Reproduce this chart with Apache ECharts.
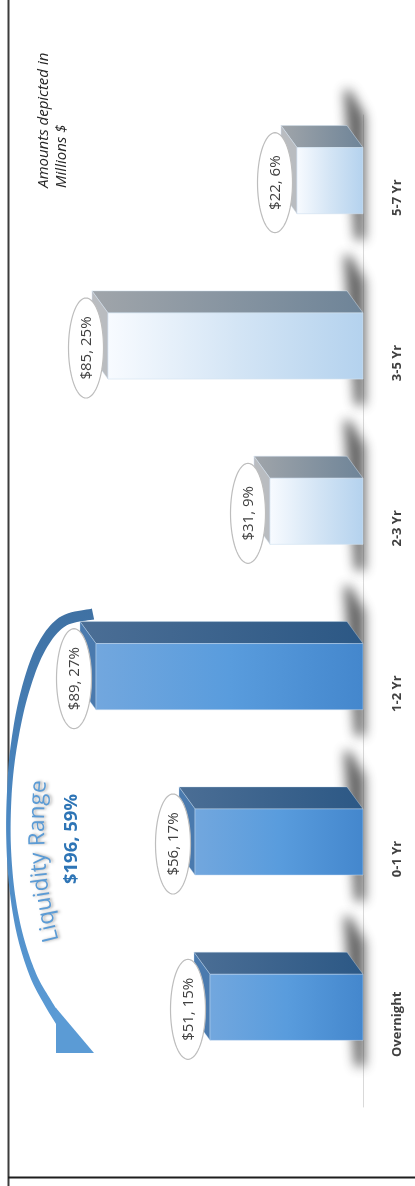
<!DOCTYPE html>
<html>
<head>
<meta charset="utf-8">
<title>Maturity profile</title>
<script src="https://cdn.jsdelivr.net/npm/echarts@6/dist/echarts.min.js"></script>
<style>
  html, body { margin: 0; padding: 0; background: #ffffff; }
  #chart { width: 415px; height: 1186px; }
</style>
</head>
<body>
<div id="chart"></div>
<script>
// Maturity buckets, amounts (millions $) and share of total (%)
const categories = ['Overnight', '0-1 Yr', '1-2 Yr', '2-3 Yr', '3-5 Yr', '5-7 Yr'];
const amounts = [51, 56, 89, 31, 85, 22];
const shares = [15, 17, 27, 9, 25, 6];
// the first buckets form the liquidity range
const liquidCount = 3;
const noteText = 'Amounts depicted in\nMillions $';
const rangeTitle = 'Liquidity Range';

const liquidTotal = amounts.slice(0, liquidCount).reduce((a, b) => a + b, 0);
const liquidShare = shares.slice(0, liquidCount).reduce((a, b) => a + b, 0);

const FONT = '"Open Sans", "Noto Sans", sans-serif';
const LG = echarts.graphic.LinearGradient;

const palettes = {
  liquid: {
    front: () => new LG(0, 0, 1, 0, [
      { offset: 0, color: '#72a7de' }, { offset: 0.5, color: '#599cdd' }, { offset: 1, color: '#4487cd' }]),
    top: () => new LG(0, 0, 1, 0, [
      { offset: 0, color: '#4b6e95' }, { offset: 1, color: '#2c5885' }]),
    side: '#4a7aae',
    edge: 'rgba(200,220,240,0.6)'
  },
  term: {
    front: () => new LG(0, 0, 1, 0, [
      { offset: 0, color: '#f8fbff' }, { offset: 0.5, color: '#d4e5f5' }, { offset: 1, color: '#b4d2ee' }]),
    top: () => new LG(0, 0, 1, 0, [
      { offset: 0, color: '#a0a5aa' }, { offset: 1, color: '#6e8498' }]),
    side: '#b9bcc0',
    edge: 'rgba(210,225,240,0.8)'
  }
};

function ellipsePoints(cx, cy, rx, ry) {
  const pts = [];
  for (let i = 0; i < 72; i++) {
    const a = i / 72 * Math.PI * 2;
    pts.push([cx + rx * Math.cos(a), cy + ry * Math.sin(a)]);
  }
  return pts;
}

// 3D column drawn lying on its side: front face, upper face, end cap, soft floor shadow and value bubble
function renderColumn(params, api) {
  const val = api.value(0);
  const idx = api.value(1);
  const share = api.value(2);
  const tip = api.coord([val, idx]);
  const base = api.coord([0, idx]);
  const band = api.size([0, 1])[1];
  const xl = tip[0], x0 = base[0], yc = tip[1];
  const half = band * 0.2, lift = band * 0.103;
  const yt = yc - lift - half, yb = yc - lift + half;
  const dx = 16, dy = 22;
  const pal = idx < liquidCount ? palettes.liquid : palettes.term;
  const off = 3000;

  // only the blurred shadow of this off-canvas shape lands on the chart
  const shadowPts = [[x0 - 19, yc - 108], [x0 - 13, yc - 108], [x0 + 2, yc - 82], [x0 + 2, yc + 42], [x0 - 8, yc + 42]]
    .map(p => [p[0] - off, p[1]]);

  const ex = xl - 22, ey = yc - 15;
  const label = '$' + val + ', ' + share + '%';

  return {
    type: 'group',
    silent: true,
    children: [
      { type: 'polygon', shape: { points: shadowPts },
        style: { fill: '#000', shadowBlur: 12, shadowColor: 'rgba(40,40,40,0.72)', shadowOffsetX: off } },
      { type: 'polygon', shape: { points: [[xl, yt], [x0, yt], [x0 - dx, yt - dy], [xl - dx, yt - dy]] },
        style: { fill: pal.top(), stroke: pal.edge, lineWidth: 0.6 } },
      { type: 'polygon', shape: { points: [[xl, yt], [xl - dx, yt - dy], [xl - dx, yb - dy], [xl, yb]] },
        style: { fill: pal.side, stroke: pal.edge, lineWidth: 0.6 } },
      { type: 'rect', shape: { x: xl, y: yt, width: x0 - xl, height: yb - yt },
        style: { fill: pal.front(), stroke: pal.edge, lineWidth: 0.8 } },
      { type: 'polygon', shape: { points: ellipsePoints(ex, ey, 17.5, 50) },
        style: { fill: '#ffffff', stroke: '#bdbdbd', lineWidth: 1.2 } },
      { type: 'text', x: ex + 1, y: ey, rotation: Math.PI / 2,
        style: { text: label, align: 'center', verticalAlign: 'middle', fill: '#404040',
                 font: '15px ' + FONT } }
    ]
  };
}

// curved bracket arrow over the liquidity range
function arrowOutline() {
  const path = [[93, 614], [62, 622], [40, 650], [24, 695], [14, 745], [9.5, 790], [8.5, 840],
                [12, 890], [20, 935], [33, 975], [48, 1003], [60, 1022]];
  const widths = [5.5, 5.3, 4.8, 4, 3.2, 2.4, 2.2, 2.4, 2.9, 3.4, 4, 4.4];
  const samples = [], ws = [];
  const n = 12;
  for (let i = 0; i < path.length - 1; i++) {
    const p0 = path[Math.max(i - 1, 0)], p1 = path[i], p2 = path[i + 1], p3 = path[Math.min(i + 2, path.length - 1)];
    for (let k = 0; k < n; k++) {
      const t = k / n, t2 = t * t, t3 = t2 * t;
      const f = (a, b, c, d) => 0.5 * (2 * b + (-a + c) * t + (2 * a - 5 * b + 4 * c - d) * t2 + (-a + 3 * b - 3 * c + d) * t3);
      samples.push([f(p0[0], p1[0], p2[0], p3[0]), f(p0[1], p1[1], p2[1], p3[1])]);
      ws.push(widths[i] + (widths[i + 1] - widths[i]) * t);
    }
  }
  samples.push(path[path.length - 1]);
  ws.push(widths[widths.length - 1]);
  const left = [], right = [];
  for (let i = 0; i < samples.length; i++) {
    const a = samples[Math.max(i - 1, 0)], b = samples[Math.min(i + 1, samples.length - 1)];
    let tx = b[0] - a[0], ty = b[1] - a[1];
    const len = Math.hypot(tx, ty) || 1;
    tx /= len; ty /= len;
    const nx = -ty, ny = tx;
    left.push([samples[i][0] + nx * ws[i], samples[i][1] + ny * ws[i]]);
    right.push([samples[i][0] - nx * ws[i], samples[i][1] - ny * ws[i]]);
  }
  return left.concat(right.reverse());
}

// characters of the range title set along a gentle arc
function arcTitle() {
  const fs = 22.5;
  const font = fs + 'px ' + FONT;
  const ctx = document.createElement('canvas').getContext('2d');
  ctx.font = font;
  const R = 460, cx = 45 + R, cy = 825;
  let phi = Math.asin((cy - 940) / R);
  const rText = R + fs * 0.33;
  const out = [];
  for (const ch of rangeTitle) {
    const w = ctx.measureText(ch).width;
    const pc = phi + (w / 2) / R;
    out.push({
      type: 'text',
      x: cx - rText * Math.cos(pc),
      y: cy - rText * Math.sin(pc),
      rotation: Math.PI / 2 - pc,
      silent: true,
      style: {
        text: ch, font: font, fill: '#5b9bd5', align: 'center', verticalAlign: 'middle',
        textShadowBlur: 3, textShadowColor: 'rgba(0,0,0,0.35)', textShadowOffsetX: 2, textShadowOffsetY: 0,
        shadowBlur: 3, shadowColor: 'rgba(0,0,0,0.35)', shadowOffsetX: 2
      }
    });
    phi += w / R;
  }
  return out;
}

const chart = echarts.init(document.getElementById('chart'), null, { renderer: 'canvas' });

chart.setOption({
  backgroundColor: '#ffffff',
  animation: false,
  grid: { left: 63, right: 52, top: 115, bottom: 79 },
  xAxis: { type: 'value', min: 0, max: 100, inverse: true, show: false },
  yAxis: {
    type: 'category',
    data: categories,
    position: 'right',
    offset: 13,
    axisLine: { show: true, lineStyle: { color: '#d9d9d9', width: 1 } },
    axisTick: { show: false },
    splitLine: { show: false },
    axisLabel: {
      rotate: 90, margin: 15, color: '#404040', fontWeight: 'bold',
      fontSize: 13, fontFamily: FONT
    }
  },
  series: [{
    type: 'custom',
    renderItem: renderColumn,
    encode: { x: 0, y: 1 },
    clip: false,
    data: amounts.map((v, i) => [v, i, shares[i]])
  }],
  graphic: [
    // frame
    { type: 'line', silent: true, shape: { x1: 8.5, y1: 0, x2: 8.5, y2: 1186 },
      style: { stroke: '#3c3c3c', lineWidth: 2 } },
    { type: 'line', silent: true, shape: { x1: 8, y1: 1177.5, x2: 415, y2: 1177.5 },
      style: { stroke: '#1e1e1e', lineWidth: 2 } },
    // units note
    { type: 'text', silent: true, x: 35, y: 188, rotation: Math.PI / 2,
      style: { text: noteText, font: 'italic 15px ' + FONT, fill: '#262626',
               align: 'left', verticalAlign: 'top', lineHeight: 18 } },
    // arrow shaft and head
    { type: 'polygon', silent: true, shape: { points: arrowOutline() },
      style: { fill: new LG(0, 0, 0, 1, [
        { offset: 0, color: '#3f71a3' }, { offset: 0.45, color: '#4a86c0' }, { offset: 1, color: '#5b9bd5' }]) } },
    { type: 'polygon', silent: true, shape: { points: [[56, 1008], [56, 1053], [94, 1053]] },
      style: { fill: '#5b9bd5' } },
    // range total
    { type: 'text', silent: true, x: 72, y: 839, rotation: Math.PI / 2,
      style: { text: '$' + liquidTotal + ', ' + liquidShare + '%', font: 'bold 18.5px ' + FONT,
               fill: '#2e75b6', align: 'center', verticalAlign: 'middle' } }
  ].concat(arcTitle())
});
</script>
</body>
</html>
